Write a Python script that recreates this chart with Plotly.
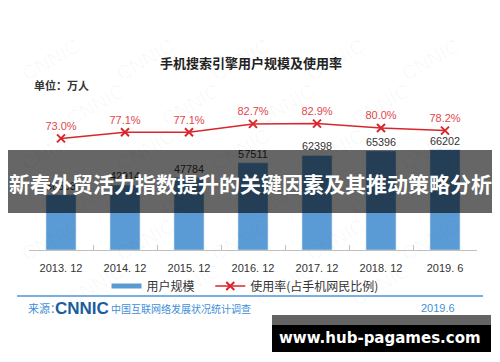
import plotly.graph_objects as go

categories = ["2013. 12", "2014. 12", "2015. 12", "2016. 12", "2017. 12", "2018. 12", "2019. 6"]
users = [36503, 42914, 47784, 57511, 62398, 65396, 66202]
rates = [73.0, 77.1, 77.1, 82.7, 82.9, 80.0, 78.2]
rate_labels = [f"{v:.1f}%" for v in rates]

W, H = 500, 362
def px(x): return x / W
def py(y): return (H - y) / H

CJK = "Noto Sans CJK SC"
SANS = "Liberation Sans"
BLUE = "#5B9BD5"
RED = "#D9262B"

fig = go.Figure()
fig.add_trace(go.Bar(
    x=categories, y=users, marker_color=BLUE, showlegend=False,
    text=[str(v) for v in users], textposition="outside", cliponaxis=False,
    textfont=dict(family=SANS, size=11, color="#333333"),
))
# legend proxy for bars
fig.add_trace(go.Scatter(
    x=[None], y=[None], mode="lines", line=dict(color=BLUE, width=5),
    name="用户规模\u00a0\u00a0\u00a0\u00a0",
))
fig.add_trace(go.Scatter(
    x=categories, y=rates, yaxis="y2", mode="lines+markers+text",
    line=dict(color=RED, width=1.5),
    marker=dict(symbol="x-thin", size=8, line=dict(color=RED, width=2)),
    text=rate_labels, textposition="top center", cliponaxis=False,
    textfont=dict(family=SANS, size=11, color="#E0474C"),
    name="使用率(占手机网民比例)",
))

def ann(x, y, text, font, xanchor="center", **kw):
    d = dict(x=px(x), y=py(y), xref="paper", yref="paper", showarrow=False,
             xanchor=xanchor, yanchor="middle", text=text, font=font)
    d.update(kw)
    return d

annotations = []
# faint CNNIC watermarks
for i, yy in enumerate(range(60, 330, 45)):
    for xx in range(50, 470, 95):
        off = 45 if i % 2 else 0
        if xx + off > 460:
            continue
        annotations.append(ann(xx + off, yy, "CNNIC",
                               dict(family=SANS, size=20, color="rgba(0,0,0,0.03)"),
                               textangle=-30))

annotations += [
    ann(251, 62, "<b>手机搜索引擎用户规模及使用率</b>",
        dict(family=CJK, size=13, color="#222222")),
    ann(32, 85, "<b>单位：万人</b>", dict(family=CJK, size=11, color="#333333"),
        xanchor="left"),
    ann(26, 308, "来源：", dict(family=CJK, size=11, color="#3F8FD8"), xanchor="left"),
    ann(53, 308, "<b>CNNIC</b>", dict(family=SANS, size=17, color="#1A5E9E"),
        xanchor="left"),
    ann(109, 308, "中国互联网络发展状况统计调查",
        dict(family=CJK, size=10, color="#3F8FD8"), xanchor="left"),
    ann(438, 308, "2019.6", dict(family=SANS, size=11, color="#3F8FD8")),
    ann(250, 183, "<b>新春外贸活力指数提升的关键因素及其推动策略分析</b>",
        dict(family=CJK, size=21, color="#FFFFFF")),
    ann(380, 338, "<b>www.hub-pagames.com</b>",
        dict(family="DejaVu Sans", size=15, color="#FFFFFF")),
]

shapes = [
    dict(type="line", xref="paper", yref="paper", x0=px(17), x1=px(483),
         y0=py(296), y1=py(296), line=dict(color="#4F95D6", width=1.5)),
    dict(type="rect", xref="paper", yref="paper", x0=px(8), x1=px(492),
         y0=py(150), y1=py(213), fillcolor="rgba(0,0,0,0.6)",
         line=dict(width=0), layer="above"),
    dict(type="rect", xref="paper", yref="paper", x0=px(272), x1=px(491),
         y0=py(315), y1=py(325), fillcolor="#646464",
         line=dict(width=0), layer="above"),
    dict(type="rect", xref="paper", yref="paper", x0=px(272), x1=px(491),
         y0=py(325), y1=py(352), fillcolor="#000000",
         line=dict(width=0), layer="above"),
]

fig.update_layout(
    width=W, height=H, margin=dict(l=0, r=0, t=0, b=0),
    paper_bgcolor="white", plot_bgcolor="rgba(0,0,0,0)",
    bargap=0.53,
    xaxis=dict(domain=[px(29), px(477)], type="category",
               showline=True, linecolor="#BFBFBF", linewidth=1,
               ticks="inside", ticklen=5, tickcolor="#BFBFBF", tickson="boundaries",
               ticklabelstandoff=8,
               tickfont=dict(family=SANS, size=11, color="#333333"),
               showgrid=False, fixedrange=True),
    yaxis=dict(domain=[py(250), py(110)], range=[0, 92400], visible=False,
               showgrid=False),
    yaxis2=dict(overlaying="y", range=[-1.7, 92.0], visible=False,
                showgrid=False),
    legend=dict(orientation="h", x=0.49, xanchor="center", y=py(286),
                yanchor="middle", font=dict(family=CJK, size=12, color="#333333"),
                bgcolor="rgba(0,0,0,0)"),
    annotations=annotations,
    shapes=shapes,
)

fig.write_html("out.html")
